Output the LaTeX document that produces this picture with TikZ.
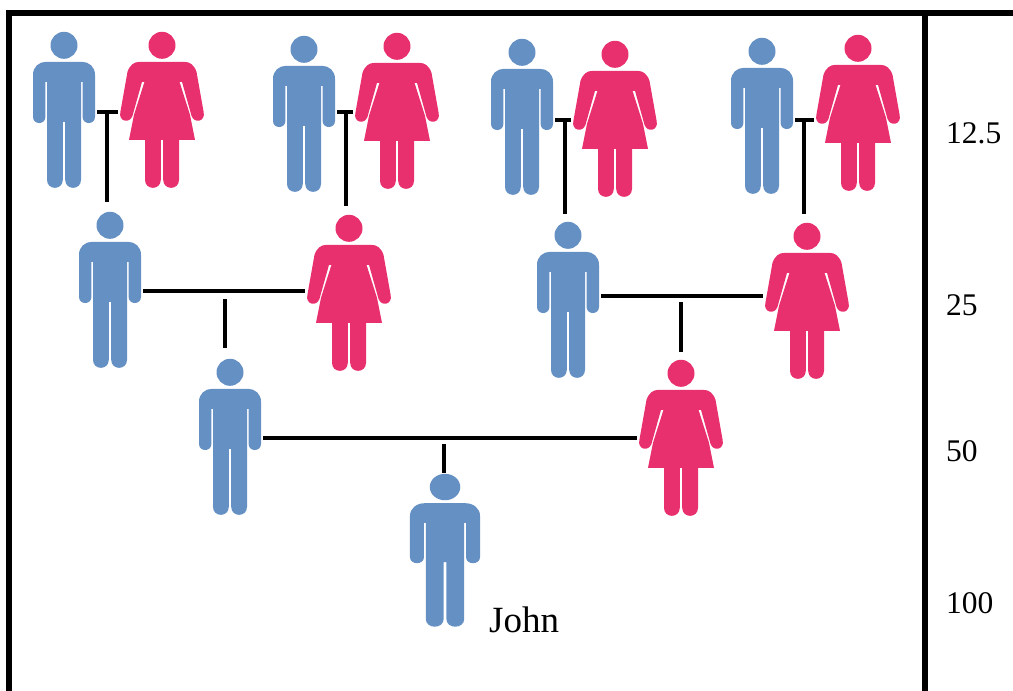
\documentclass[tikz,border=0pt]{standalone}
\usepackage{fontspec}
\setmainfont{Liberation Serif}
\definecolor{manblue}{RGB}{101,144,195}
\definecolor{womanpink}{RGB}{232,48,111}
\tikzset{
  manbox/.style={inner sep=0, minimum width=62pt, minimum height=156pt},
  womanbox/.style={inner sep=0, minimum width=83pt, minimum height=156pt},
  frameline/.style={line width=5.5pt},
  link/.style={line width=3.5pt},
  share/.style={font=\fontsize{31.5}{36}\selectfont, anchor=base west, inner sep=0},
  manfig/.pic={
    \fill[manblue] (0,13.5) circle (13.5pt);
    \fill[manblue] (-18,30) -- (18,30) .. controls (25,30) and (31,35) .. (31,43) -- (31,85)
      .. controls (31,93.3) and (18.6,93.3) .. (18.6,85) -- (18.6,50) -- (17,50) -- (17,148)
      .. controls (17,158.7) and (1.2,158.7) .. (1.2,148) -- (1.2,90) -- (-1.2,90) -- (-1.2,148)
      .. controls (-1.2,158.7) and (-17,158.7) .. (-17,148) -- (-17,50) -- (-18.6,50) -- (-18.6,85)
      .. controls (-18.6,93.3) and (-31,93.3) .. (-31,85) -- (-31,43)
      .. controls (-31,35) and (-25,30) .. (-18,30) -- cycle;
  },
  womanfig/.pic={
    \fill[womanpink] (0,13.5) circle (13.5pt);
    \fill[womanpink] (-22,30) -- (22,30) .. controls (28,30) and (32,33) .. (34.5,40) -- (41.6,80)
      .. controls (44,90) and (32,92) .. (29.5,84) -- (20,50) -- (17.5,50) -- (28,83) -- (33,108)
      -- (-33,108) -- (-28,83) -- (-17.5,50) -- (-20,50) -- (-29.5,84)
      .. controls (-32,92) and (-44,90) .. (-41.6,80) -- (-34.5,40)
      .. controls (-32,33) and (-28,30) .. (-22,30) -- cycle;
    \fill[womanpink] (1.2,107) -- (17,107) -- (17,148) .. controls (17,158.7) and (1.2,158.7) .. (1.2,148) -- cycle;
    \fill[womanpink] (-1.2,107) -- (-17,107) -- (-17,148) .. controls (-17,158.7) and (-1.2,158.7) .. (-1.2,148) -- cycle;
  }
}
\begin{document}
\begin{tikzpicture}[x=1pt, y=-1pt]
  \useasboundingbox (0,0) rectangle (1013,691);

  % Frame
  \draw[frameline] (9,691) -- (9,13) -- (1013,13);
  \draw[frameline] (925,13) -- (925,691);

  % People: name/x/top
  \foreach \n/\x/\t in {m1/64/32, m2/304/36, m3/522/39, m4/762/38, a1/110/212, a3/568/222, b1/230/359}
  {
    \node[manbox] (\n) at (\x,\t+78) {};
    \pic at (\n.north) {manfig};
  }
  \foreach \n/\x/\t in {w1/162/32, w2/397/33, w3/615/41, w4/858/35, a2/349/215, a4/807/223, b2/681/360}
  {
    \node[womanbox] (\n) at (\x,\t+78) {};
    \pic at (\n.north) {womanfig};
  }
  \node[manbox, minimum width=70pt, minimum height=153pt] (john) at (445,550.5) {};
  \pic[xscale=1.13, yscale=0.98] at (john.north) {manfig};

  % Couples and their children
  \foreach \j/\x/\y/\l/\r/\c/\gap/\short in {
    j1/107/112/m1/w1/a1/0/10, j2/346/112/m2/w2/a2/0/9, j3/565/120/m3/w3/a3/0/8, j4/804/120/m4/w4/a4/0/9,
    j5/225/291/a1/a2/b1/8/11, j6/681/296/a3/a4/b2/6/8, j7/444/438/b1/b2/john/6/1}
  {
    \coordinate (\j) at (\x,\y);
    \draw[link, shorten <=2pt, shorten >=2pt] (\j -| \l.east) -- (\j -| \r.west);
    \draw[link, shorten <=\gap pt, shorten >=\short pt] (\j) -- (\j |- \c.north);
  }

  % Shares of ancestry
  \node[share] (s1) at (946,143) {12.5};
  \node[share] (s2) at (946,315) {25};
  \node[share] (s3) at (946,461) {50};
  \node[share] (s4) at (946,613) {100};
  \node[share, font=\fontsize{37}{42}\selectfont] (name) at (489,632) {John};
\end{tikzpicture}
\end{document}
